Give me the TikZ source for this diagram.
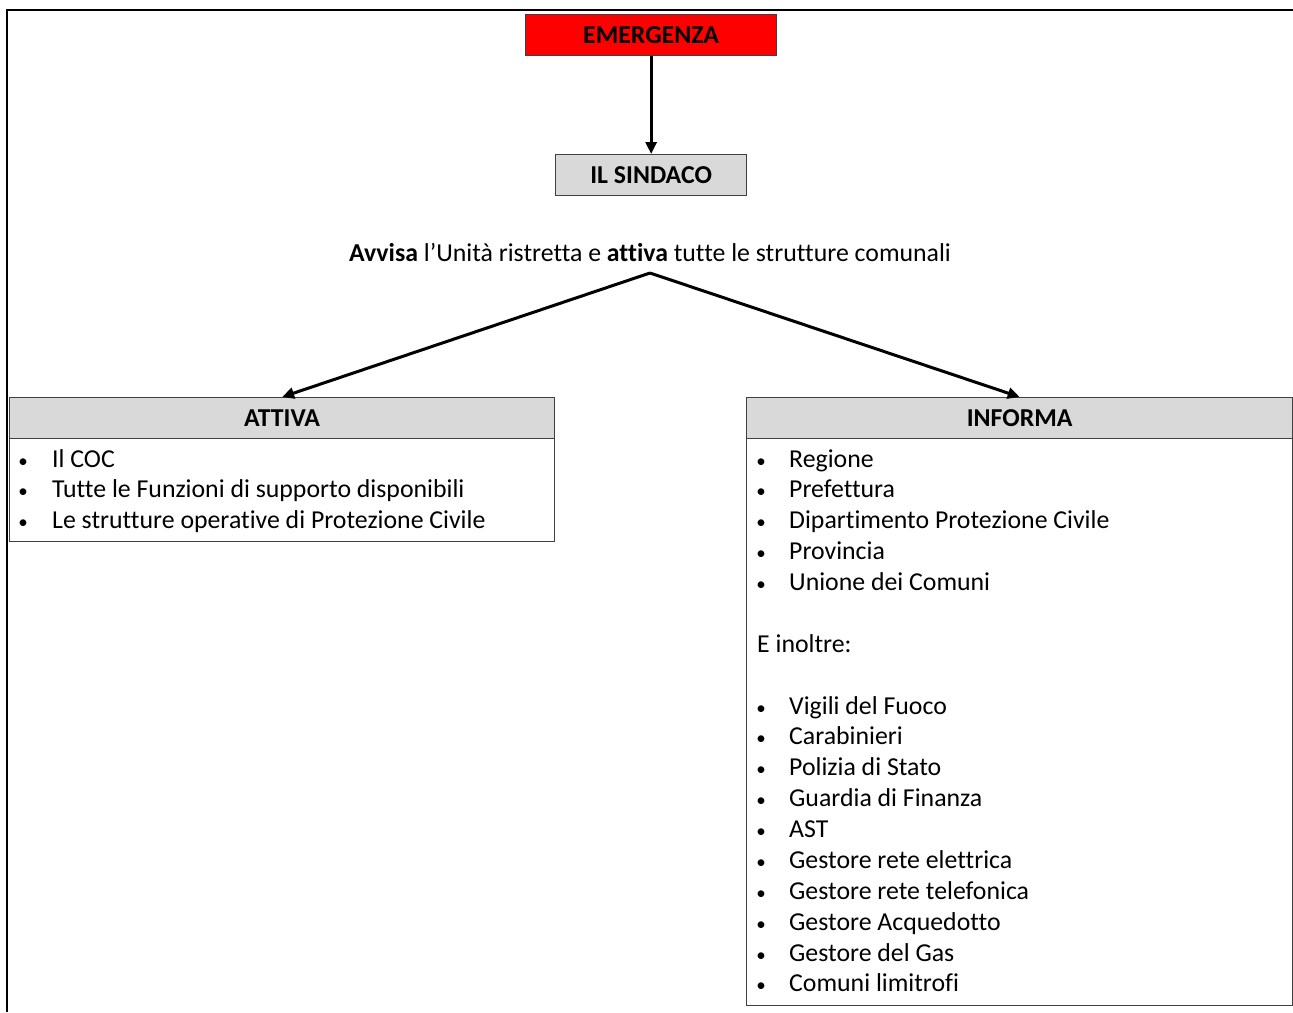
\documentclass[tikz,border=0pt]{standalone}
\usepackage{fontspec}
\setmainfont{Carlito}[Ligatures=NoCommon]
\usetikzlibrary{arrows.meta}

\begin{document}
\begin{tikzpicture}
[x=1pt, y=-1pt,
 every node/.style={font=\fontsize{25.8}{31}\selectfont, inner sep=0pt},
 headbox/.style={draw=black!75, line width=1.3pt, fill=black!15, minimum height=41pt, font=\fontsize{25.8}{31}\selectfont\bfseries},
 listbox/.style={draw=black!75, line width=1.3pt, fill=white},
 dot/.style={anchor=base, font=\fontsize{19}{31}\selectfont},
 link/.style={line width=3pt, -{Triangle[length=12pt,width=11pt]}}]

\useasboundingbox (0,0) rectangle (1293,1012);
\draw[line width=2pt] (7,1012) -- (7,10) -- (1293,10);

% top of the chart
\node[headbox, fill=red, minimum width=251pt, anchor=north west] (emerg) at (525,14) {EMERGENZA};
\node[headbox, minimum width=191pt, anchor=north west] (sindaco) at (555,154) {IL SINDACO};
\node[anchor=base] (avvisa) at (650,261) {\textbf{Avvisa} l’Unità ristretta e \textbf{attiva} tutte le strutture comunali};
\coordinate (fork) at (650,273);

% the two boxes
\node[listbox, minimum width=545pt, minimum height=103pt, anchor=north west] (attbody) at (9,438) {};
\node[headbox, minimum width=545pt, anchor=north west] (attiva) at (9,397) {ATTIVA};
\node[listbox, minimum width=546pt, minimum height=567pt, anchor=north west] (infbody) at (746,438) {};
\node[headbox, minimum width=546pt, anchor=north west] (informa) at (746,397) {INFORMA};

\draw[link] (emerg) -- (sindaco);
\draw[link] (fork) -- (attiva.north);
\draw[link] (fork) -- (informa.north);

% list of ATTIVA
\foreach \txt [count=\i from 0] in {Il COC, Tutte le Funzioni di supporto disponibili, Le strutture operative di Protezione Civile}
{
	\node[dot] (ab\i) at (23,{467+30.9*\i}) {•};
	\node[anchor=base west] (a\i) at (52,{467+30.9*\i}) {\txt};
}

% list of INFORMA
\foreach \txt [count=\i from 0] in {Regione, Prefettura, Dipartimento Protezione Civile, Provincia, Unione dei Comuni}
{
	\node[dot] (ib\i) at (761,{467+30.88*\i}) {•};
	\node[anchor=base west] (i\i) at (789,{467+30.88*\i}) {\txt};
}
\node[anchor=base west] (inoltre) at (757,{467+30.88*6}) {E inoltre:};
\foreach \txt [count=\i from 8] in {Vigili del Fuoco, Carabinieri, Polizia di Stato, Guardia di Finanza, AST, Gestore rete elettrica, Gestore rete telefonica, Gestore Acquedotto, Gestore del Gas, Comuni limitrofi}
{
	\node[dot] (ib\i) at (761,{467+30.88*\i}) {•};
	\node[anchor=base west] (i\i) at (789,{467+30.88*\i}) {\txt};
}

\end{tikzpicture}
\end{document}
